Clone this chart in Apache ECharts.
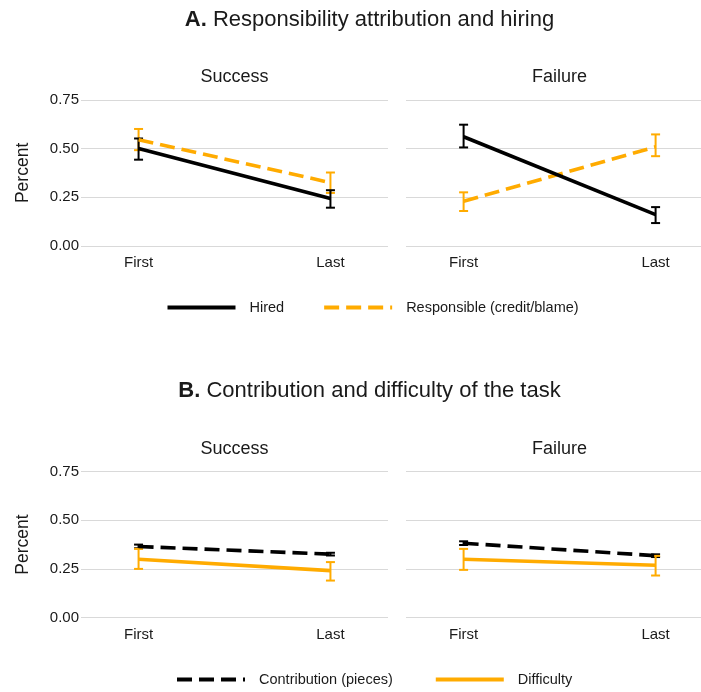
<!DOCTYPE html>
<html>
<head>
<meta charset="utf-8">
<script src="https://cdn.jsdelivr.net/npm/echarts@6/dist/echarts.min.js"></script>
<style>
html,body{margin:0;padding:0;background:#fff;}
#chart{width:701px;height:692px;}
</style>
</head>
<body>
<div id="chart"></div>
<script>
// ---- data ----
const positions = ['First', 'Last'];
const conditions = ['Success', 'Failure'];

// Panel A: Success
const hiredSuccess = [0.500, 0.243];
const hiredSuccessLow = [0.443, 0.196];
const hiredSuccessHigh = [0.552, 0.286];
const respSuccess = [0.546, 0.325];
const respSuccessLow = [0.492, 0.272];
const respSuccessHigh = [0.601, 0.377];
// Panel A: Failure
const hiredFailure = [0.561, 0.160];
const hiredFailureLow = [0.506, 0.117];
const hiredFailureHigh = [0.623, 0.199];
const respFailure = [0.229, 0.509];
const respFailureLow = [0.179, 0.461];
const respFailureHigh = [0.275, 0.573];
// Panel B: Success
const contribSuccess = [0.365, 0.326];
const contribSuccessLow = [0.356, 0.319];
const contribSuccessHigh = [0.375, 0.333];
const diffSuccess = [0.300, 0.241];
const diffSuccessLow = [0.250, 0.190];
const diffSuccessHigh = [0.353, 0.285];
// Panel B: Failure
const contribFailure = [0.382, 0.318];
const contribFailureLow = [0.373, 0.311];
const contribFailureHigh = [0.392, 0.325];
const diffFailure = [0.300, 0.269];
const diffFailureLow = [0.245, 0.216];
const diffFailureHigh = [0.353, 0.317];

const seriesNames = ['Hired', 'Responsible (credit/blame)', 'Contribution (pieces)', 'Difficulty'];

// ---- style ----
const BLACK = '#000000';
const ORANGE = '#FFAB00';
const FONT = 'Liberation Sans, Arial, Helvetica, sans-serif';
const TXT = '#1a1a1a';

const chart = echarts.init(document.getElementById('chart'), null, {renderer: 'canvas'});

const panelLeft = [81, 406];
const panelWidth = [307, 295];
const xMax = [2.3, 2.2365];   // right facet is cut by the figure edge
const panelTop = [100, 471.7];
const panelHeight = 145.8;

const grids = [], xAxes = [], yAxes = [];
for (let r = 0; r < 2; r++) {
  for (let c = 0; c < 2; c++) {
    grids.push({left: panelLeft[c], top: panelTop[r], width: panelWidth[c], height: panelHeight, containLabel: false});
    const idx = grids.length - 1;
    xAxes.push({
      type: 'value', gridIndex: idx, min: 0.7, max: xMax[c],
      axisLine: {show: false}, axisTick: {show: false}, splitLine: {show: false},
      axisLabel: {
        customValues: [1, 2], margin: 10,
        formatter: v => positions[Math.round(v) - 1] || '',
        fontFamily: FONT, fontSize: 15, color: TXT
      }
    });
    yAxes.push({
      type: 'value', gridIndex: idx, min: 0, max: 0.75, interval: 0.25,
      axisLine: {show: false}, axisTick: {show: false},
      splitLine: {show: true, lineStyle: {color: '#d9d9d9', width: 1.2}},
      axisLabel: {
        show: c === 0, margin: 2, fontFamily: FONT, fontSize: 15, color: TXT,
        formatter: v => v.toFixed(2)
      },
      name: c === 0 ? 'Percent' : '', nameLocation: 'middle', nameGap: 49,
      nameTextStyle: {fontFamily: FONT, fontSize: 17.5, color: TXT}
    });
  }
}

function lineSeries(name, gi, vals, color, dashed, width) {
  return {
    type: 'line', name: name, xAxisIndex: gi, yAxisIndex: gi,
    data: vals.map((v, i) => [i + 1, v]),
    showSymbol: false, symbol: 'none', silent: true, animation: false,
    lineStyle: {color: color, width: width, type: dashed ? [15, 7] : 'solid', cap: 'butt'},
    itemStyle: {color: color}
  };
}
function errSeries(gi, low, high, color) {
  return {
    type: 'custom', xAxisIndex: gi, yAxisIndex: gi, silent: true, animation: false,
    data: low.map((l, i) => [i + 1, l, high[i]]),
    encode: {x: 0, y: [1, 2]},
    renderItem: (params, api) => {
      const x = api.value(0);
      const lo = api.coord([x, api.value(1)]);
      const hi = api.coord([x, api.value(2)]);
      const hw = 4.5;
      const st = {stroke: color, lineWidth: 2};
      return {type: 'group', children: [
        {type: 'line', shape: {x1: lo[0], y1: lo[1], x2: hi[0], y2: hi[1]}, style: st},
        {type: 'line', shape: {x1: lo[0] - hw, y1: lo[1], x2: lo[0] + hw, y2: lo[1]}, style: st},
        {type: 'line', shape: {x1: hi[0] - hw, y1: hi[1], x2: hi[0] + hw, y2: hi[1]}, style: st}
      ]};
    }
  };
}

const series = [
  lineSeries(seriesNames[1], 0, respSuccess, ORANGE, true, 3.6),
  errSeries(0, respSuccessLow, respSuccessHigh, ORANGE),
  lineSeries(seriesNames[0], 0, hiredSuccess, BLACK, false, 3.6),
  errSeries(0, hiredSuccessLow, hiredSuccessHigh, BLACK),
  lineSeries(seriesNames[1], 1, respFailure, ORANGE, true, 3.6),
  errSeries(1, respFailureLow, respFailureHigh, ORANGE),
  lineSeries(seriesNames[0], 1, hiredFailure, BLACK, false, 3.6),
  errSeries(1, hiredFailureLow, hiredFailureHigh, BLACK),
  lineSeries(seriesNames[2], 2, contribSuccess, BLACK, true, 3.6),
  errSeries(2, contribSuccessLow, contribSuccessHigh, BLACK),
  lineSeries(seriesNames[3], 2, diffSuccess, ORANGE, false, 3.6),
  errSeries(2, diffSuccessLow, diffSuccessHigh, ORANGE),
  lineSeries(seriesNames[2], 3, contribFailure, BLACK, true, 3.6),
  errSeries(3, contribFailureLow, contribFailureHigh, BLACK),
  lineSeries(seriesNames[3], 3, diffFailure, ORANGE, false, 3.6),
  errSeries(3, diffFailureLow, diffFailureHigh, ORANGE)
];

const titleStyle = {fontFamily: FONT, fontSize: 22, fontWeight: 'normal', color: TXT,
  rich: {b: {fontFamily: FONT, fontSize: 22, fontWeight: 'bold', color: TXT}}};
const stripStyle = {fontFamily: FONT, fontSize: 18, fontWeight: 'normal', color: TXT};
const centers = [81 + 307 / 2, 406 + 307 / 2];

const titles = [
  {text: '{b|A.} Responsibility attribution and hiring', left: 369.5, top: 8.5, textAlign: 'center', textStyle: titleStyle, padding: 0},
  {text: '{b|B.} Contribution and difficulty of the task', left: 369.5, top: 380.2, textAlign: 'center', textStyle: titleStyle, padding: 0}
];
for (let r = 0; r < 2; r++) {
  for (let c = 0; c < 2; c++) {
    titles.push({text: conditions[c], left: centers[c], top: panelTop[r] - 31.5, textAlign: 'center', textStyle: stripStyle, padding: 0});
  }
}

const legendText = {fontFamily: FONT, fontSize: 14.5, color: TXT, padding: [0, 0, 0, 9]};
const legendCommon = {itemWidth: 68, itemHeight: 14, textStyle: legendText, selectedMode: false, padding: 0,
  itemStyle: {opacity: 0, borderWidth: 0}, lineStyle: {width: 4}};
const option = {
  backgroundColor: '#ffffff',
  animation: false,
  title: titles,
  grid: grids,
  xAxis: xAxes,
  yAxis: yAxes,
  legend: [
    Object.assign({data: [seriesNames[0], seriesNames[1]], left: 165.5, top: 300, itemGap: 38}, legendCommon),
    Object.assign({data: [seriesNames[2], seriesNames[3]], left: 175, top: 672, itemGap: 41}, legendCommon)
  ],
  series: series
};
chart.setOption(option);
</script>
</body>
</html>
